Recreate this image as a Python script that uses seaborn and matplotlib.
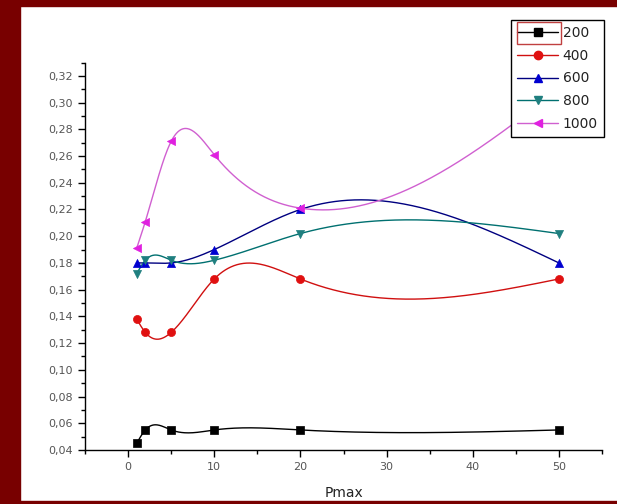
import numpy as np
import pandas as pd
import matplotlib
matplotlib.use("Agg")
import matplotlib.pyplot as plt
from matplotlib.lines import Line2D
from matplotlib.patches import Rectangle
from matplotlib.ticker import MultipleLocator, FuncFormatter
import seaborn as sns

# ---- data ----
pmax = [1, 2, 5, 10, 20, 50]
s200 = [0.045, 0.055, 0.055, 0.055, 0.055, 0.055]
s400 = [0.138, 0.128, 0.128, 0.168, 0.168, 0.168]
s600 = [0.180, 0.180, 0.180, 0.190, 0.220, 0.180]
s800 = [0.172, 0.182, 0.182, 0.182, 0.202, 0.202]
s1000 = [0.191, 0.211, 0.271, 0.261, 0.221, 0.310]
series_names = ["200", "400", "600", "800", "1000"]
series_vals = [s200, s400, s600, s800, s1000]
x_ticks = [0, 10, 20, 30, 40, 50]

line_colors = ["#000000", "#d01010", "#000080", "#007070", "#d060d0"]
mark_colors = ["#000000", "#e01010", "#0000d0", "#1f7f7f", "#e020e0"]
markers = ["s", "o", "^", "v", "<"]


def natural_spline(x, y, xs):
    x = np.asarray(x, float)
    y = np.asarray(y, float)
    n = len(x)
    h = np.diff(x)
    A = np.zeros((n, n))
    b = np.zeros(n)
    A[0, 0] = 1
    A[-1, -1] = 1
    for i in range(1, n - 1):
        A[i, i - 1] = h[i - 1]
        A[i, i] = 2 * (h[i - 1] + h[i])
        A[i, i + 1] = h[i]
        b[i] = 6 * ((y[i + 1] - y[i]) / h[i] - (y[i] - y[i - 1]) / h[i - 1])
    M = np.linalg.solve(A, b)
    out = np.empty_like(xs)
    for k, xv in enumerate(xs):
        i = min(max(np.searchsorted(x, xv) - 1, 0), n - 2)
        t1 = x[i + 1] - xv
        t0 = xv - x[i]
        out[k] = (M[i] * t1 ** 3 / (6 * h[i]) + M[i + 1] * t0 ** 3 / (6 * h[i])
                  + (y[i] / h[i] - M[i] * h[i] / 6) * t1
                  + (y[i + 1] / h[i] - M[i + 1] * h[i] / 6) * t0)
    return out


sns.set_theme(style="white")
plt.rcParams["font.family"] = ["DejaVu Sans"]

fig = plt.figure(figsize=(6.17, 5.04), dpi=100, facecolor="white")
ax = fig.add_axes([85 / 617, 54 / 504, 517 / 617, 387.5 / 504])

xs = np.linspace(pmax[0], pmax[-1], 800)
pts = []
curves = []
for name, vals in zip(series_names, series_vals):
    pts.append(pd.DataFrame({"Pmax": pmax, "v": vals, "s": name}))
    curves.append(pd.DataFrame({"Pmax": xs, "v": natural_spline(pmax, vals, xs), "s": name}))
pts = pd.concat(pts)
curves = pd.concat(curves)

pal_line = dict(zip(series_names, line_colors))
pal_mark = dict(zip(series_names, mark_colors))

sns.lineplot(data=curves, x="Pmax", y="v", hue="s", palette=pal_line,
             linewidth=1.0, legend=False, ax=ax, sort=False, estimator=None)
for name, mk in zip(series_names, markers):
    sub = pts[pts["s"] == name]
    sns.scatterplot(data=sub, x="Pmax", y="v", color=pal_mark[name], marker=mk,
                    s=34, edgecolor=pal_mark[name], linewidth=0.5, ax=ax,
                    legend=False, zorder=3)

ax.set_xlim(-5, 55)
ax.set_ylim(0.04, 0.33)
ax.set_xticks(x_ticks)
ax.xaxis.set_minor_locator(MultipleLocator(5))
ax.yaxis.set_major_locator(MultipleLocator(0.02))
ax.yaxis.set_minor_locator(MultipleLocator(0.01))
ax.yaxis.set_major_formatter(FuncFormatter(lambda v, p: f"{v:.2f}".replace(".", ",")
                                           if v <= 0.325 else ""))
ax.tick_params(which="major", direction="out", length=5, width=1, color="black",
               labelsize=8, labelcolor="#555555", bottom=True, left=True)
ax.tick_params(which="minor", direction="out", length=3, width=1, color="black",
               bottom=True, left=True)
sns.despine(ax=ax)
for sp in ["left", "bottom"]:
    ax.spines[sp].set_color("black")
    ax.spines[sp].set_linewidth(1.0)
ax.set_xlabel("Pmax", fontsize=10, color="#222222", labelpad=10)
ax.set_ylabel("")

handles = [Line2D([0], [0], color=lc, marker=mk, markerfacecolor=mc, markeredgecolor=mc,
                  markersize=6, linewidth=1.0)
           for lc, mc, mk in zip(line_colors, mark_colors, markers)]
leg = fig.legend(handles, series_names, loc="upper right",
                 bbox_to_anchor=(604 / 617, 1 - 20 / 504), borderaxespad=0,
                 frameon=True, fancybox=False, fontsize=10, handlelength=3.0,
                 handletextpad=0.3, labelspacing=0.62, borderpad=0.45)
leg.get_frame().set_edgecolor("black")
leg.get_frame().set_linewidth(1.0)
leg.get_frame().set_facecolor("white")
leg.get_frame().set_alpha(1)
for t in leg.get_texts():
    t.set_color("#222222")

# red selection box around first legend entry's handle
fig.canvas.draw()
renderer = fig.canvas.get_renderer()
tb = leg.get_texts()[0].get_window_extent(renderer)
inv = fig.transFigure.inverted()
(tx0, ty0), (tx1, ty1) = inv.transform([(tb.x0, tb.y0), (tb.x1, tb.y1)])
cy = (ty0 + ty1) / 2
box_w = 44 / 617
fig.patches.append(Rectangle((tx0 - 2 / 617 - box_w, cy - 11 / 504), box_w, 22 / 504,
                             transform=fig.transFigure, fill=False,
                             edgecolor="#c04040", linewidth=1.0, zorder=10))

# dark red frame
frame_c = "#780000"
fig.patches.append(Rectangle((0, 0), 20 / 617, 1, transform=fig.transFigure,
                             color=frame_c, zorder=20))
fig.patches.append(Rectangle((0, 1 - 6 / 504), 1, 6 / 504, transform=fig.transFigure,
                             color=frame_c, zorder=20))
fig.patches.append(Rectangle((0, 0), 1, 3 / 504, transform=fig.transFigure,
                             color=frame_c, zorder=20))

fig.savefig("out.png", dpi=100, facecolor="white")
